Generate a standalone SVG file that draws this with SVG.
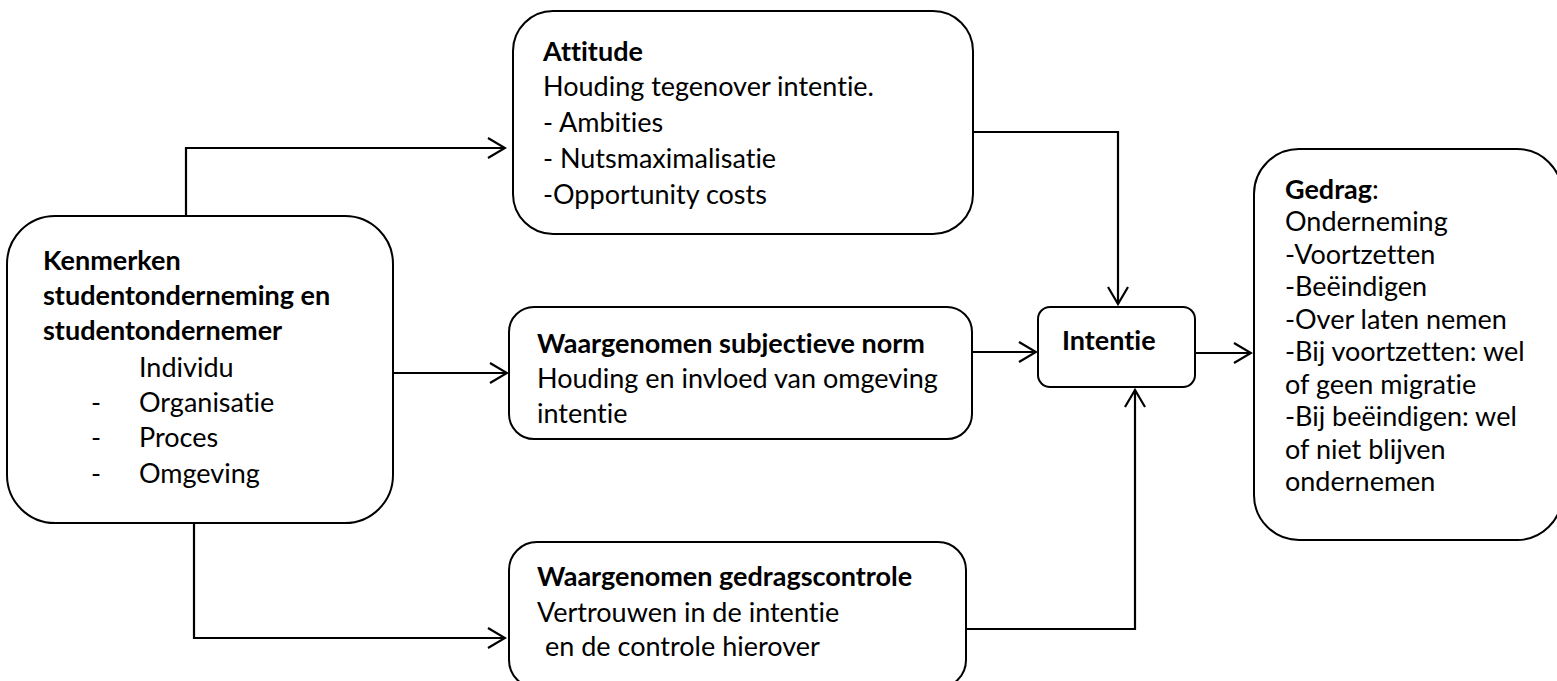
<svg xmlns="http://www.w3.org/2000/svg" width="1557" height="681" viewBox="0 0 1557 681">
<defs>
<marker id="arr" viewBox="0 0 20 22" refX="18" refY="11" markerWidth="20" markerHeight="22" markerUnits="userSpaceOnUse" orient="auto">
<path d="M1,1 L18,11 L1,21" fill="none" stroke="#000" stroke-width="2.2"/>
</marker>
<style>
.box{fill:#fff;stroke:#000;stroke-width:2}
.t{font-family:Lato,"Open Sans","Liberation Sans",sans-serif;font-size:27px;fill:#000;font-variant-ligatures:none;font-feature-settings:"liga" 0,"dlig" 0}
.b{font-weight:bold}
.c{fill:none;stroke:#000;stroke-width:2.2}
</style>
</defs>
<rect width="1557" height="681" fill="#fff"/>
<g id="connectors">
<path class="c" d="M186,216 V148 H505" marker-end="url(#arr)"/>
<path class="c" d="M393,373 H507" marker-end="url(#arr)"/>
<path class="c" d="M194,523 V638 H505" marker-end="url(#arr)"/>
<path class="c" d="M973,132 H1118 V304" marker-end="url(#arr)"/>
<path class="c" d="M972,352 H1036" marker-end="url(#arr)"/>
<path class="c" d="M965,629 H1135 V390" marker-end="url(#arr)"/>
<path class="c" d="M1195,353 H1251" marker-end="url(#arr)"/>
</g>
<g id="kenmerken">
<rect class="box" x="7" y="216" width="386" height="307" rx="48"/>
<text class="t b" x="43" y="270">Kenmerken</text>
<text class="t b" x="43" y="305">studentonderneming en</text>
<text class="t b" x="43" y="340">studentondernemer</text>
<text class="t" x="139" y="377">Individu</text>
<text class="t" x="91" y="412">-</text><text class="t" x="139" y="412">Organisatie</text>
<text class="t" x="91" y="447">-</text><text class="t" x="139" y="447">Proces</text>
<text class="t" x="91" y="483">-</text><text class="t" x="139" y="483">Omgeving</text>
</g>
<g id="attitude">
<rect class="box" x="513" y="11" width="460" height="223" rx="40"/>
<text class="t b" x="543" y="61">Attitude</text>
<text class="t" x="543" y="96">Houding tegenover intentie.</text>
<text class="t" x="543" y="132">- Ambities</text>
<text class="t" x="543" y="168">- Nutsmaximalisatie</text>
<text class="t" x="543" y="204">-Opportunity costs</text>
</g>
<g id="subjectieve-norm">
<rect class="box" x="509" y="307" width="463" height="132" rx="25"/>
<text class="t b" x="537" y="353">Waargenomen subjectieve norm</text>
<text class="t" x="537" y="388">Houding en invloed van omgeving</text>
<text class="t" x="537" y="423">intentie</text>
</g>
<g id="gedragscontrole">
<rect class="box" x="509" y="542" width="457" height="146" rx="28"/>
<text class="t b" x="537" y="586">Waargenomen gedragscontrole</text>
<text class="t" x="537" y="622">Vertrouwen in de intentie</text>
<text class="t" x="545" y="656">en de controle hierover</text>
</g>
<g id="intentie">
<rect class="box" x="1038" y="307" width="157" height="80" rx="12"/>
<text class="t b" x="1062" y="350">Intentie</text>
</g>
<g id="gedrag">
<rect class="box" x="1254" y="149" width="308" height="391" rx="45"/>
<text class="t" x="1285" y="199"><tspan class="b">Gedrag</tspan>:</text>
<text class="t" x="1285" y="231">Onderneming</text>
<text class="t" x="1285" y="264">-Voortzetten</text>
<text class="t" x="1285" y="296">-Beëindigen</text>
<text class="t" x="1285" y="329">-Over laten nemen</text>
<text class="t" x="1285" y="361">-Bij voortzetten: wel</text>
<text class="t" x="1285" y="394">of geen migratie</text>
<text class="t" x="1285" y="426">-Bij beëindigen: wel</text>
<text class="t" x="1285" y="459">of niet blijven</text>
<text class="t" x="1285" y="491">ondernemen</text>
</g>
</svg>
